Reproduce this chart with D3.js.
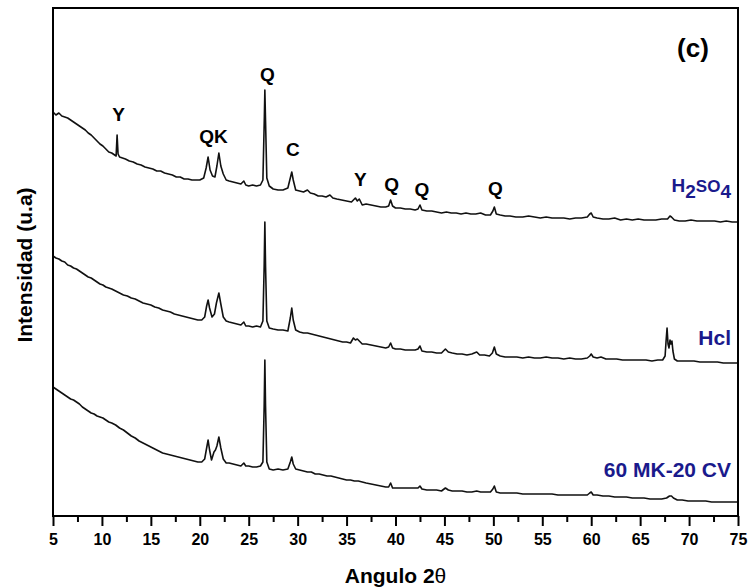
<!DOCTYPE html>
<html>
  <head>
    <meta charset="utf-8">
    <title>DRX 60 MK-20 CV</title>
    <script type="text/javascript" src="https://d3js.org/d3.v7.min.js"></script>
    <style type="text/css">
      body { margin: 0; background: #fff; }
      text { font-family: "Liberation Sans", Arial, sans-serif; font-weight: bold; }
    </style>
  </head>
  <body>
    <script type="text/javascript">

      //Patterns: [2theta, intensity (a.u.)]
      var h2so4 = [
        [5.0,404],[5.3,401],[5.6,403],[5.9,400],[6.2,399],[6.5,398],[6.8,396],[7.1,394],[7.4,392],[7.7,390],
        [8.0,388],[8.3,386],[8.6,383],[8.9,381],[9.2,378],[9.5,375],[9.8,372],[10.1,370],[10.4,367],[10.7,364],
        [11.0,363],[11.3,361],[11.45,360],[11.55,381],[11.65,362],[11.8,359],[12.1,358],[12.4,357],[12.8,355],
        [13.2,354],[13.6,352],[14.0,351],[14.4,349],[14.8,348],[15.2,347],[15.6,345],[16.0,345],[16.4,343],
        [16.8,342],[17.2,341],[17.6,339],[18.0,339],[18.4,337],[18.8,337],[19.2,336],[19.6,336],[20.0,336],
        [20.4,338],[20.65,348],[20.85,359],[21.05,346],[21.3,340],[21.55,339],[21.75,350],[21.95,363],[22.15,350],
        [22.4,342],[22.7,336],[23.0,335],[23.4,334],[23.8,333],[24.2,332],[24.5,335],[24.7,331],[25.0,330],
        [25.4,331],[25.8,330],[26.2,331],[26.45,336],[26.6,400],[26.65,426],[26.72,395],[26.85,338],[27.1,330],
        [27.5,327],[28.0,326],[28.5,326],[29.0,328],[29.25,338],[29.4,344],[29.55,336],[29.8,326],[30.2,325],
        [30.6,324],[31.0,326],[31.3,323],[31.7,322],[32.1,320],[32.5,320],[32.9,319],[33.3,321],[33.6,318],
        [34.0,317],[34.5,316],[35.0,315],[35.5,314],[35.9,318],[36.1,315],[36.3,317],[36.6,311],[37.0,312],
        [37.5,311],[38.0,310],[38.5,309],[39.0,309],[39.3,310],[39.5,316],[39.7,310],[40.0,308],[40.5,308],
        [41.0,307],[41.5,307],[42.0,306],[42.3,307],[42.5,311],[42.7,306],[43.2,305],[43.7,305],[44.2,304],
        [44.7,303],[45.2,304],[45.7,303],[46.2,303],[46.7,302],[47.2,303],[47.7,302],[48.2,302],[48.7,303],
        [49.2,301],[49.7,301],[49.95,305],[50.1,309],[50.3,302],[50.7,301],[51.2,300],[51.7,300],[52.3,299],
        [53.0,299],[53.6,300],[54.2,299],[54.8,298],[55.4,299],[56.0,298],[56.6,298],[57.2,298],[57.8,297],
        [58.4,298],[59.0,298],[59.6,299],[59.85,302],[60.0,303],[60.2,299],[60.6,298],[61.2,297],[61.8,297],
        [62.4,298],[63.0,296],[63.6,297],[64.2,296],[64.8,297],[65.4,296],[66.0,296],[66.6,296],[67.2,297],
        [67.8,297],[68.05,300],[68.2,299],[68.5,296],[69.0,295],[69.6,295],[70.2,296],[70.8,295],[71.4,295],
        [72.0,295],[72.6,295],[73.2,294],[73.8,295],[74.4,294],[75.0,294]
      ];

      var hcl = [
        [5.0,260],[5.3,258],[5.6,257],[5.9,255],[6.2,254],[6.5,251],[6.8,250],[7.1,248],[7.4,247],[7.7,245],
        [8.0,243],[8.3,241],[8.6,239],[8.9,238],[9.2,236],[9.5,234],[9.8,232],[10.1,231],[10.4,229],[10.7,228],
        [11.0,227],[11.4,225],[11.8,223],[12.2,221],[12.6,220],[13.0,218],[13.4,217],[13.8,215],[14.2,213],
        [14.6,212],[15.0,211],[15.4,209],[15.8,208],[16.2,206],[16.6,205],[17.0,204],[17.4,202],[17.8,201],
        [18.2,200],[18.6,199],[19.0,198],[19.4,197],[19.8,196],[20.2,196],[20.5,199],[20.7,210],[20.85,216],
        [21.0,208],[21.25,199],[21.5,202],[21.7,213],[21.95,223],[22.15,212],[22.4,199],[22.7,195],[23.0,194],
        [23.4,193],[23.8,192],[24.2,191],[24.5,194],[24.7,190],[25.0,190],[25.4,189],[25.8,190],[26.2,189],
        [26.45,195],[26.58,250],[26.65,294],[26.72,250],[26.85,195],[27.1,188],[27.5,187],[28.0,186],[28.5,186],
        [29.0,185],[29.25,198],[29.4,208],[29.55,196],[29.8,186],[30.2,184],[30.6,183],[31.0,183],[31.4,182],
        [31.8,181],[32.2,180],[32.6,179],[33.0,178],[33.4,177],[33.8,176],[34.2,175],[34.6,174],[35.0,174],
        [35.4,173],[35.7,178],[35.9,176],[36.1,177],[36.3,175],[36.6,172],[37.0,172],[37.5,171],[38.0,170],
        [38.5,169],[39.0,168],[39.3,169],[39.5,173],[39.7,168],[40.0,167],[40.5,167],[41.0,166],[41.5,166],
        [42.0,166],[42.3,167],[42.5,170],[42.7,165],[43.2,164],[43.7,164],[44.2,163],[44.7,163],[45.1,167],
        [45.4,164],[45.8,163],[46.3,162],[46.8,162],[47.3,161],[47.8,162],[48.3,164],[48.6,161],[49.1,161],
        [49.6,160],[49.9,163],[50.1,169],[50.3,162],[50.7,160],[51.2,159],[51.8,159],[52.4,159],[53.0,158],
        [53.6,159],[54.2,158],[54.8,158],[55.4,159],[56.0,158],[56.6,158],[57.2,157],[57.8,158],[58.4,157],
        [59.0,157],[59.6,158],[59.85,160],[60.0,162],[60.2,159],[60.6,158],[61.0,159],[61.5,157],[62.0,157],
        [62.6,157],[63.2,156],[63.8,156],[64.4,156],[65.0,156],[65.6,156],[66.2,155],[66.8,156],[67.3,156],
        [67.55,160],[67.65,175],[67.75,188],[67.85,172],[67.95,168],[68.05,176],[68.15,172],[68.25,175],
        [68.35,165],[68.5,157],[68.8,155],[69.3,155],[69.9,155],[70.5,155],[71.1,154],[71.7,154],[72.3,154],
        [72.9,154],[73.5,153],[74.1,153],[74.7,153],[75.0,153]
      ];

      var mk60 = [
        [5.0,129],[5.3,127],[5.6,125],[5.9,123],[6.2,121],[6.5,119],[6.8,117],[7.1,116],[7.4,114],[7.7,112],
        [8.0,109],[8.3,107],[8.6,105],[8.9,103],[9.2,102],[9.5,100],[9.8,99],[10.1,98],[10.4,96],[10.7,94],
        [11.0,93],[11.4,91],[11.8,88],[12.2,86],[12.6,83],[13.0,80],[13.4,78],[13.8,75],[14.2,73],[14.6,71],
        [15.0,69],[15.4,67],[15.8,65],[16.2,63],[16.6,62],[17.0,61],[17.4,60],[17.8,59],[18.2,58],[18.6,57],
        [19.0,56],[19.4,55],[19.8,54],[20.2,54],[20.5,57],[20.7,68],[20.85,76],[21.0,66],[21.2,56],[21.45,64],
        [21.6,66],[21.75,70],[21.95,79],[22.15,68],[22.4,57],[22.7,53],[23.0,53],[23.4,52],[23.8,51],[24.2,50],
        [24.5,53],[24.7,50],[25.0,50],[25.4,49],[25.8,49],[26.2,50],[26.45,54],[26.58,110],[26.65,156],
        [26.72,110],[26.85,54],[27.1,47],[27.5,46],[28.0,47],[28.5,46],[29.0,47],[29.25,54],[29.4,59],
        [29.55,52],[29.8,47],[30.2,46],[30.6,45],[31.0,44],[31.4,44],[31.8,42],[32.2,42],[32.6,41],[33.0,40],
        [33.4,40],[33.8,39],[34.2,38],[34.6,37],[35.0,36],[35.4,36],[35.8,35],[36.2,35],[36.6,34],[37.0,33],
        [37.5,32],[38.0,31],[38.5,30],[39.0,29],[39.3,29],[39.5,33],[39.7,28],[40.0,28],[40.5,28],[41.0,28],
        [41.5,28],[42.0,28],[42.3,28],[42.5,30],[42.7,27],[43.2,26],[43.7,26],[44.2,26],[44.7,25],[45.1,28],
        [45.4,26],[45.8,25],[46.3,25],[46.8,25],[47.3,24],[47.8,24],[48.3,25],[48.7,24],[49.2,24],[49.7,24],
        [49.95,27],[50.1,30],[50.3,24],[50.7,23],[51.2,23],[51.8,23],[52.4,23],[53.0,22],[53.6,22],[54.2,22],
        [54.8,22],[55.4,22],[56.0,22],[56.6,21],[57.2,21],[57.8,21],[58.4,21],[59.0,21],[59.6,21],[59.85,23],
        [60.0,24],[60.2,21],[60.6,21],[61.2,20],[61.8,20],[62.4,19],[63.0,19],[63.6,19],[64.2,18],[64.8,18],
        [65.4,18],[66.0,17],[66.6,17],[67.2,17],[67.7,18],[68.0,20],[68.2,20],[68.4,18],[68.8,16],[69.3,16],
        [69.9,15],[70.5,15],[71.1,15],[71.7,15],[72.3,14],[72.9,14],[73.5,14],[74.1,14],[74.7,14],[75.0,14]
      ];

      //Phase labels: [text, 2theta, intensity]
      var phases = [
        ["Y",11.7,395],["QK",21.4,373],["Q",26.9,435],["C",29.5,360],
        ["Y",36.4,330],["Q",39.6,325],["Q",42.7,320],["Q",50.2,321]
      ];

      //Sample names: [name, intensity where the name sits]
      var samples = [["H2SO4",324],["Hcl",171],["60 MK-20 CV",39]];

      var xTicks = d3.range(5, 76, 5);
      var xMinor = d3.range(7.5, 75, 5);

      //Width and height
      var w = 750;
      var h = 588;
      var margin = {top: 8, right: 12, bottom: 72, left: 53};

      var x = d3.scaleLinear().domain([5, 75]).range([margin.left, w - margin.right]);
      var y = d3.scaleLinear().domain([0, 508]).range([h - margin.bottom, margin.top]);

      var svg = d3.select("body").append("svg")
        .attr("width", w)
        .attr("height", h);

      var line = d3.line()
        .x(function(d) { return x(d[0]); })
        .y(function(d) { return y(d[1]); });

      //Traces
      svg.selectAll("path.trace")
        .data([h2so4, hcl, mk60])
        .enter()
        .append("path")
        .attr("class", "trace")
        .attr("d", line)
        .attr("fill", "none")
        .attr("stroke", "#111")
        .attr("stroke-width", 1.6)
        .attr("stroke-linejoin", "round");

      //Bottom axis, major and minor ticks
      var xAxis = svg.append("g")
        .attr("transform", "translate(0," + (h - margin.bottom) + ")")
        .call(d3.axisBottom(x).tickValues(xTicks).tickSize(10).tickPadding(8).tickFormat(d3.format("d")));
      xAxis.select(".domain").remove();
      xAxis.selectAll(".tick line").attr("stroke", "#000").attr("stroke-width", 2);
      xAxis.selectAll(".tick text")
        .attr("fill", "#000")
        .style("font-size", "16px")
        .style("font-family", "'Liberation Sans', Arial, sans-serif")
        .style("font-weight", "bold");

      var xMinorAxis = svg.append("g")
        .attr("transform", "translate(0," + (h - margin.bottom) + ")")
        .call(d3.axisBottom(x).tickValues(xMinor).tickSize(6).tickFormat(""));
      xMinorAxis.select(".domain").remove();
      xMinorAxis.selectAll(".tick line").attr("stroke", "#000").attr("stroke-width", 2);

      //Frame
      svg.append("rect")
        .attr("x", margin.left)
        .attr("y", margin.top)
        .attr("width", w - margin.left - margin.right)
        .attr("height", h - margin.top - margin.bottom)
        .attr("fill", "none")
        .attr("stroke", "#000")
        .attr("stroke-width", 2);

      //Phase labels
      svg.selectAll("text.phase")
        .data(phases)
        .enter()
        .append("text")
        .attr("class", "phase")
        .attr("x", function(d) { return x(d[1]); })
        .attr("y", function(d) { return y(d[2]); })
        .attr("text-anchor", "middle")
        .style("font-size", "19px")
        .attr("fill", "#000")
        .text(function(d) { return d[0]; });

      //Sample names
      var names = svg.selectAll("text.sample")
        .data(samples)
        .enter()
        .append("text")
        .attr("class", "sample")
        .attr("x", w - margin.right - 7)
        .attr("y", function(d) { return y(d[1]); })
        .attr("text-anchor", "end")
        .attr("fill", "#1a1a8c")
        .style("font-size", "21px");

      names.each(function(d) {
        var t = d3.select(this);
        if (d[0] === "H2SO4") {
          t.append("tspan").text("H").style("font-size", "19px");
          t.append("tspan").text("2").attr("dy", 6).style("font-size", "19px");
          t.append("tspan").text("SO").attr("dy", -6).style("font-size", "17px");
          t.append("tspan").text("4").attr("dy", 6).style("font-size", "19px");
        } else {
          t.text(d[0]);
        }
      });

      //Panel letter
      svg.append("text")
        .attr("x", 693)
        .attr("y", 57)
        .attr("text-anchor", "middle")
        .style("font-size", "26px")
        .text("(c)");

      //Axis titles
      var xt = svg.append("text")
        .attr("x", (margin.left + w - margin.right) / 2)
        .attr("y", 583)
        .attr("text-anchor", "middle")
        .style("font-size", "21px");
      xt.append("tspan").text("Angulo 2");
      xt.append("tspan").text("\u03B8").style("font-weight", "normal");

      svg.append("text")
        .attr("transform", "translate(32," + ((margin.top + h - margin.bottom) / 2 + 3) + ") rotate(-90)")
        .attr("text-anchor", "middle")
        .style("font-size", "21px")
        .text("Intensidad (u.a)");

    </script>
  </body>
</html>
